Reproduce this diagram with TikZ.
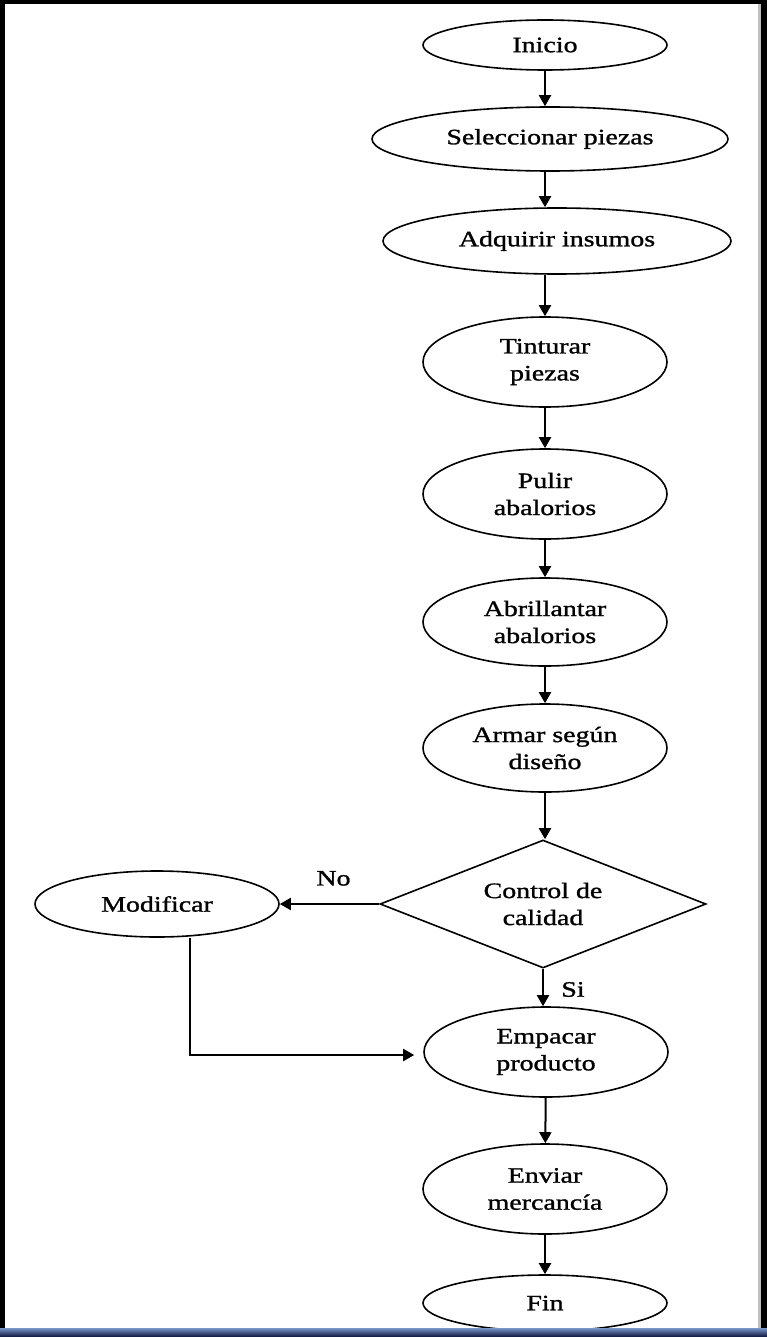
\documentclass[tikz,border=0pt]{standalone}
\usepackage{fontspec}
\setmainfont{Liberation Serif}[FakeStretch=1.27, FakeBold=1.2]
\usepackage{xcolor}
\usepackage{tikz}
\usetikzlibrary{arrows.meta, positioning, shapes.geometric}
\definecolor{framenavy}{RGB}{10,18,60}
\definecolor{frameblue}{RGB}{120,150,200}

\begin{document}
\begin{tikzpicture}[
    x=1pt, y=-1pt,
    >={Triangle[length=11pt, width=12pt]},
    every node/.style={font=\fontsize{22}{27}\selectfont},
    proc/.style={draw, ellipse, line width=1.6pt, inner sep=0pt, minimum width=244pt, minimum height=90pt, align=center},
    check/.style={draw, diamond, shape aspect=2.5, line width=1.6pt, inner sep=0pt, minimum width=326pt, minimum height=128pt, align=center},
    flow/.style={->, line width=2pt},
]
    \useasboundingbox (0,0) rectangle (767,1337);

    % main chain
    \node[proc, minimum height=50pt] (inicio) at (545, 45) {Inicio};
    \node[proc, minimum width=356pt, minimum height=64pt] (select) at (550, 139) {Seleccionar piezas};
    \node[proc, minimum width=348pt, minimum height=66pt] (buy) at (557, 241) {Adquirir insumos};
    \node[proc] (dye) at (545, 362) {Tinturar\\piezas};
    \node[proc] (polish) at (545, 494) {Pulir\\abalorios};
    \node[proc, minimum height=88pt] (shine) at (545, 622) {Abrillantar\\abalorios};
    \node[proc, minimum height=88pt] (build) at (545, 748) {Armar según\\diseño};
    \node[check] (qc) at (543, 904) {Control de\\calidad};
    \node[proc, minimum height=66pt] (fix) at (157, 904) {Modificar};
    \node[proc] (pack) at (546, 1052) {Empacar\\producto};
    \node[proc] (ship) at (545, 1189) {Enviar\\mercancía};
    \node[proc, minimum height=56pt] (fin) at (545, 1303) {Fin};

    \draw[flow] (inicio) -- (inicio |- select.north);
    \draw[flow] (select.south -| inicio) -- (inicio |- buy.north);
    \draw[flow] (buy.south -| inicio) -- (dye);
    \draw[flow] (dye) -- (polish);
    \draw[flow] (polish) -- (shine);
    \draw[flow] (shine) -- (build);
    \draw[flow] (build) -- (build |- qc.north);
    \draw[flow] (qc.west) -- node[above=14pt, xshift=4pt] (no) {No} (qc.west -| fix.east);
    \draw[flow] (qc.south) -- node[right=14pt, yshift=-2pt] (si) {Si} (qc.south |- pack.north);
    \draw[flow] (pack) -- (ship);
    \draw[flow] (ship) -- (fin);

    % way back from Modificar
    \coordinate (back) at (190, 1055);
    \draw[flow, shorten >=9pt] (fix.south -| back) -- (back) -- (back -| pack.west);

    % frame
    \fill[black] (0,0) rectangle (5,1337);
    \fill[black] (0,0) rectangle (767,4);
    \fill[black] (761,0) rectangle (767,1337);
    \fill[black!25] (758,4) rectangle (761,1329);
    \shade[top color=frameblue, bottom color=framenavy] (0,1328) rectangle (767,1337);
\end{tikzpicture}
\end{document}
